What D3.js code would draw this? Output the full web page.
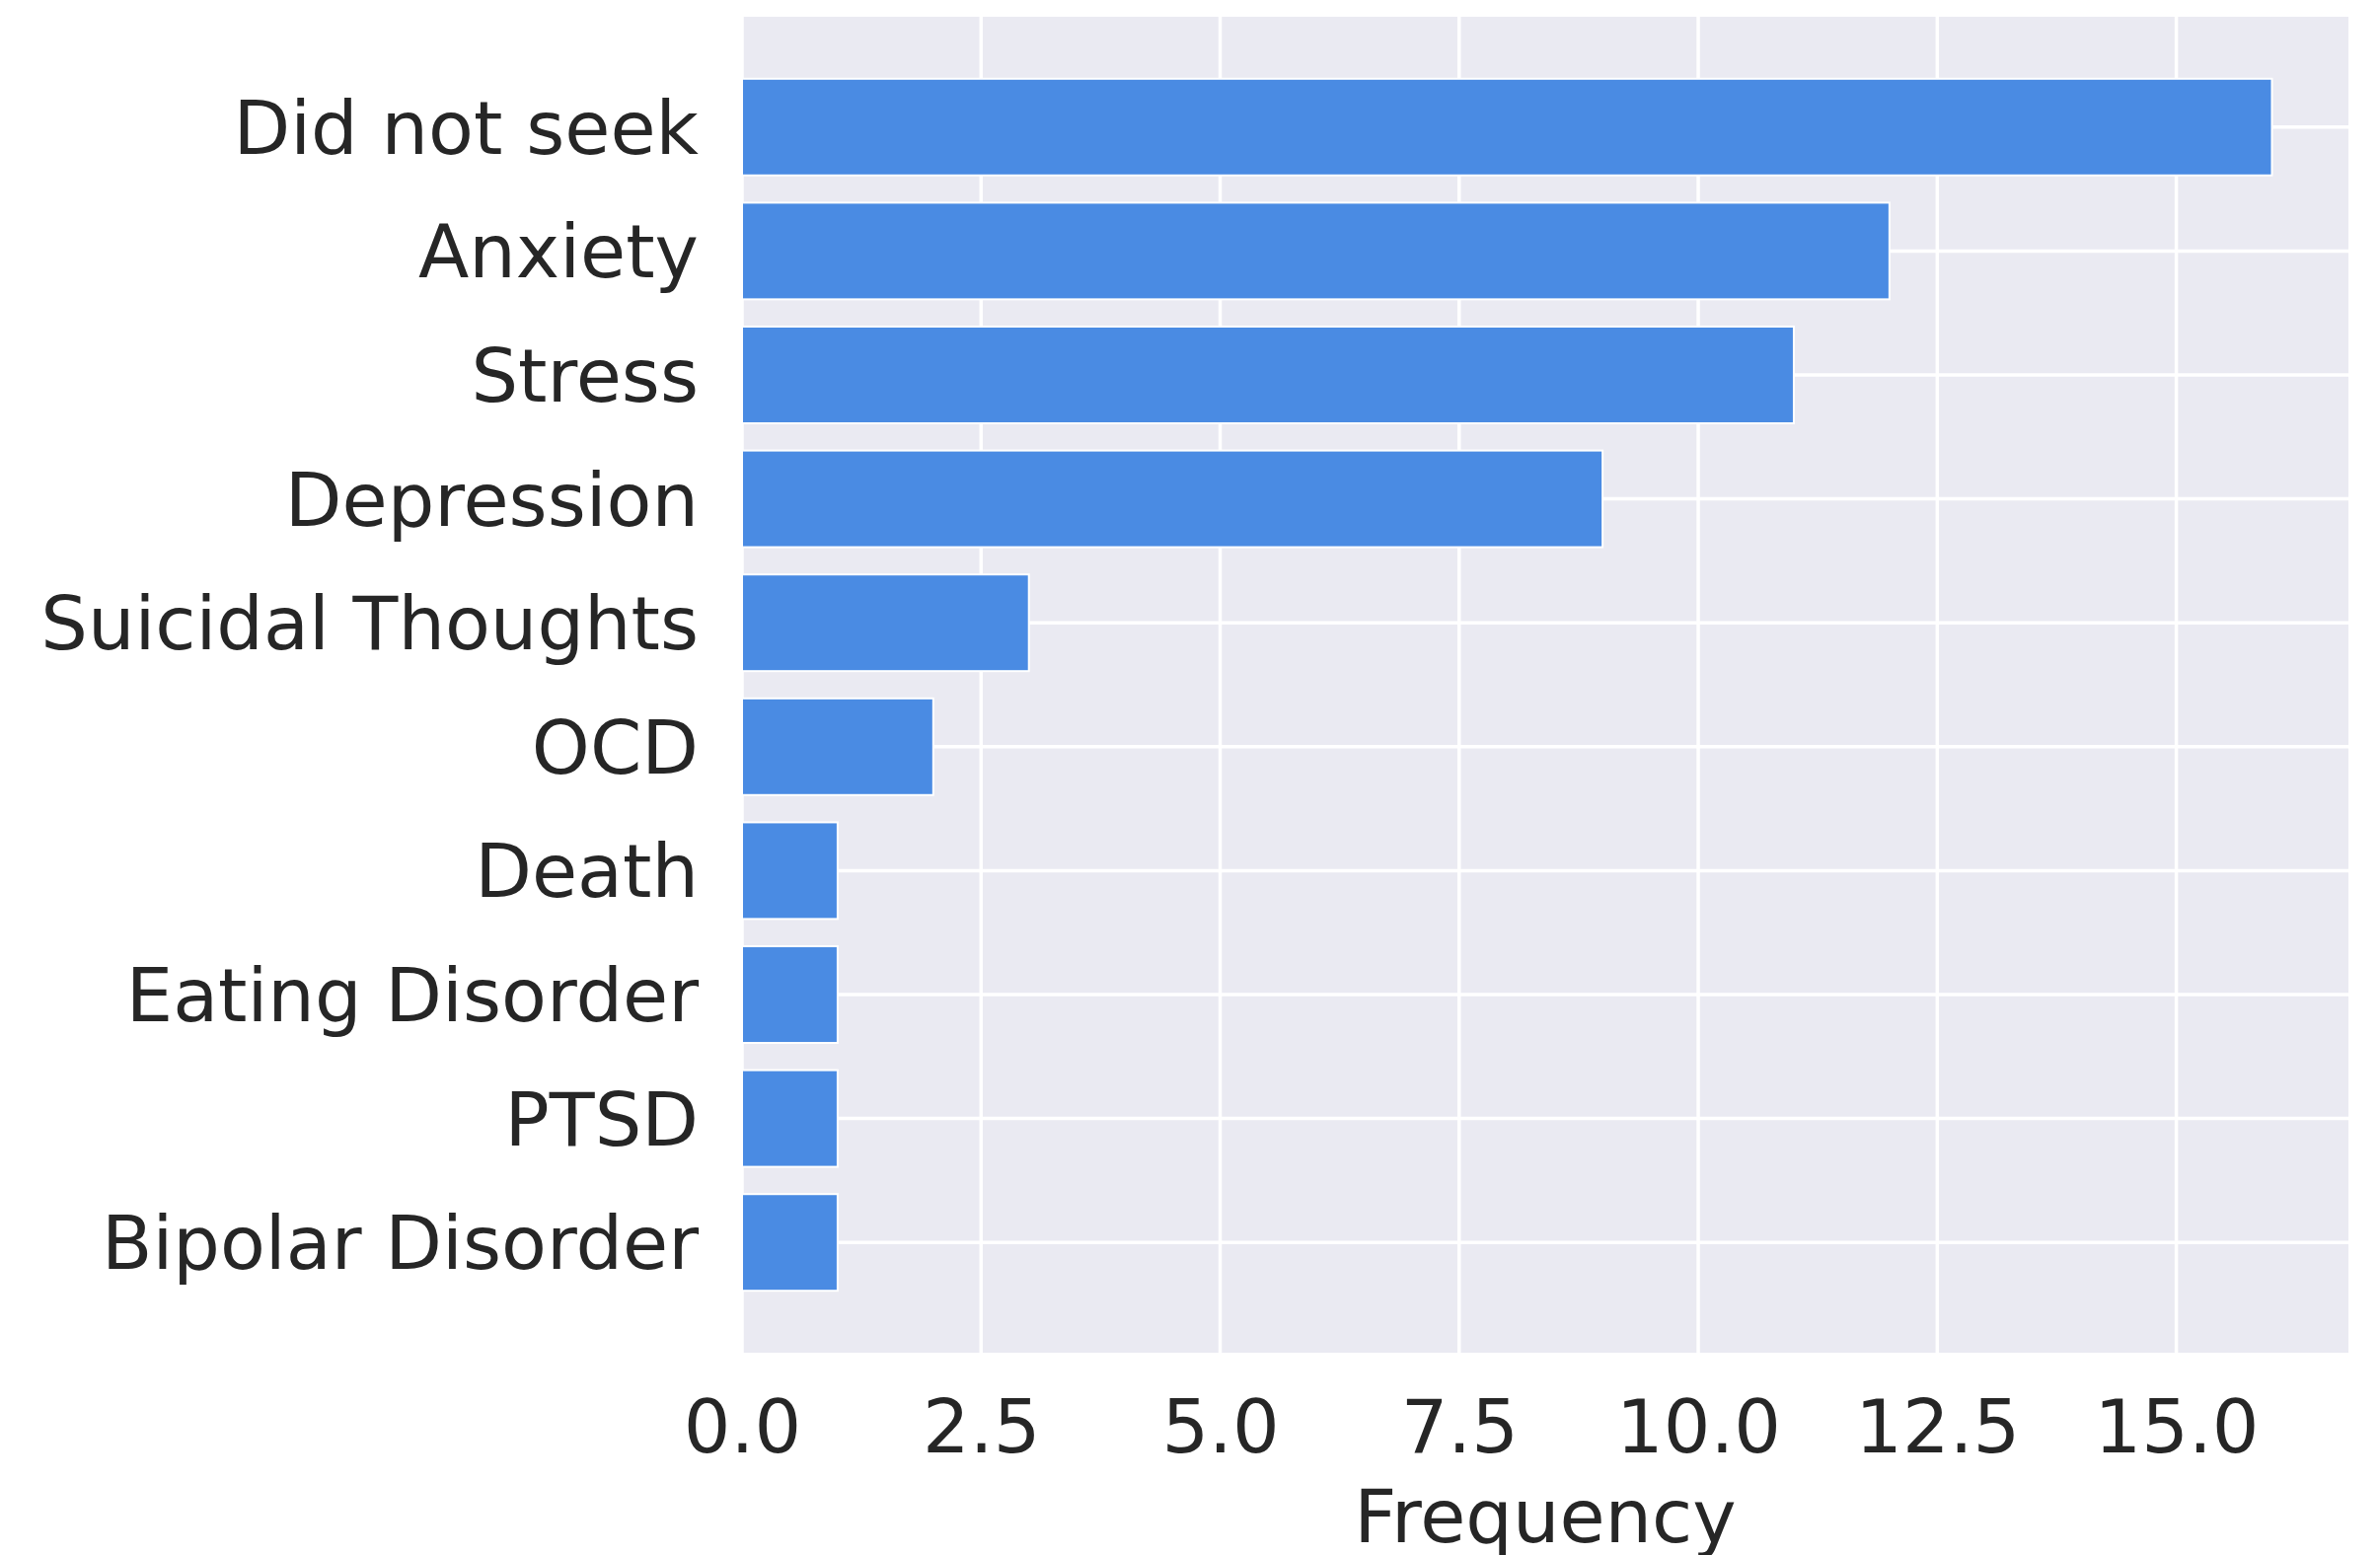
<!DOCTYPE html>
<html>
<head>
<meta charset="utf-8">
<script src="https://cdn.jsdelivr.net/npm/d3@7"></script>
<style>
  html, body { margin: 0; padding: 0; background: #ffffff; }
  svg { display: block; }
</style>
</head>
<body>
<script>
const categories = ["Did not seek", "Anxiety", "Stress", "Depression", "Suicidal Thoughts", "OCD", "Death", "Eating Disorder", "PTSD", "Bipolar Disorder"];
const frequencies = [16, 12, 11, 9, 3, 2, 1, 1, 1, 1];
const xTicks = [0, 2.5, 5, 7.5, 10, 12.5, 15];
const xLabel = "Frequency";

const W = 2412, H = 1576;
const plot = { left: 752, right: 2380, top: 17, bottom: 1371 };
const fontFamily = "'DejaVu Sans', sans-serif";
const textColor = "#262626";

const svg = d3.select("body").append("svg").attr("width", W).attr("height", H);
svg.append("rect").attr("width", W).attr("height", H).attr("fill", "#ffffff");

const x = d3.scaleLinear().domain([0, 16.8]).range([plot.left, plot.right]);
const y = d3.scaleBand().domain(categories).range([plot.top, plot.bottom]).paddingInner(0).paddingOuter(0.39);

// background
svg.append("rect")
  .attr("x", plot.left).attr("y", plot.top)
  .attr("width", plot.right - plot.left).attr("height", plot.bottom - plot.top)
  .attr("fill", "#eaeaf2");

const grid = svg.append("g");
grid.selectAll("line.v").data(xTicks).join("line")
  .attr("class", "v")
  .attr("x1", d => x(d)).attr("x2", d => x(d))
  .attr("y1", plot.top).attr("y2", plot.bottom)
  .attr("stroke", "#ffffff").attr("stroke-width", 3.5);
grid.selectAll("line.h").data(categories).join("line")
  .attr("class", "h")
  .attr("x1", plot.left).attr("x2", plot.right)
  .attr("y1", d => y(d) + y.bandwidth() / 2).attr("y2", d => y(d) + y.bandwidth() / 2)
  .attr("stroke", "#ffffff").attr("stroke-width", 3.5);

// bars
const barFrac = 0.78;
svg.append("g").selectAll("rect").data(categories).join("rect")
  .attr("x", x(0))
  .attr("y", d => y(d) + y.bandwidth() * (1 - barFrac) / 2)
  .attr("width", (d, i) => x(frequencies[i]) - x(0))
  .attr("height", y.bandwidth() * barFrac)
  .attr("fill", "#4a8be3")
  .attr("stroke", "#ffffff")
  .attr("stroke-width", 2);

// x axis
const xAxis = d3.axisBottom(x).tickValues(xTicks).tickFormat(d3.format(".1f")).tickSize(0).tickPadding(0);
const gx = svg.append("g").attr("transform", `translate(0,${plot.bottom})`).call(xAxis);
gx.select(".domain").remove();
gx.selectAll("text")
  .attr("y", 101).attr("dy", null)
  .attr("font-family", fontFamily).attr("font-size", 75)
  .attr("fill", textColor);

// y axis
const yAxis = d3.axisLeft(y).tickSize(0).tickPadding(0);
const gy = svg.append("g").attr("transform", `translate(${plot.left},0)`).call(yAxis);
gy.select(".domain").remove();
gy.selectAll("text")
  .attr("x", -44).attr("dy", "0.36em")
  .attr("font-family", fontFamily).attr("font-size", 75)
  .attr("fill", textColor).attr("text-anchor", "end");

// x label
svg.append("text")
  .attr("x", (plot.left + plot.right) / 2).attr("y", 1563)
  .attr("text-anchor", "middle")
  .attr("font-family", fontFamily).attr("font-size", 75)
  .attr("fill", textColor)
  .text(xLabel);
</script>
</body>
</html>
